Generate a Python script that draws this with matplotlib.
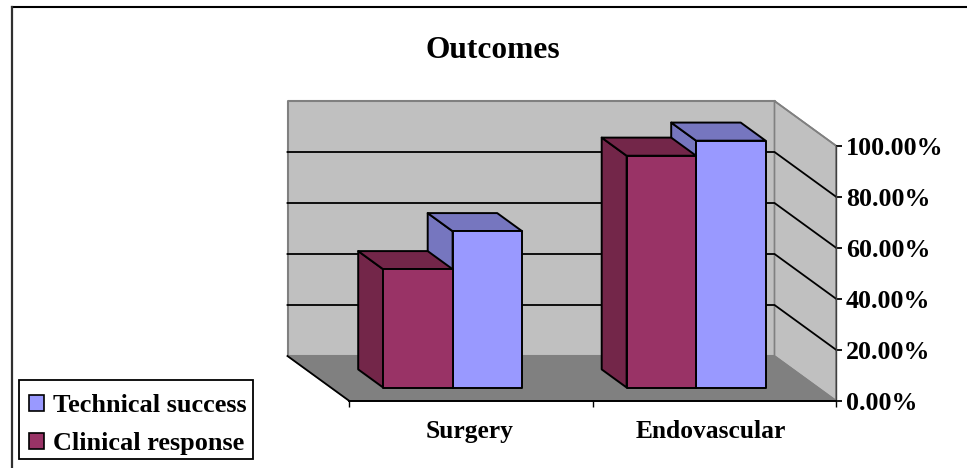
import matplotlib
matplotlib.use('Agg')
import matplotlib.pyplot as plt
from matplotlib.lines import Line2D
from matplotlib.patches import Patch, Rectangle
from matplotlib.transforms import ScaledTranslation

categories = ['Surgery', 'Endovascular']
technical_success = [61.3, 96.8]
clinical_response = [46.4, 90.9]
y_ticks = [0, 20, 40, 60, 80, 100]
y_tick_labels = ['0.00%', '20.00%', '40.00%', '60.00%', '80.00%', '100.00%']

W, H = 967, 468
plt.rcParams['font.family'] = ['Liberation Serif', 'DejaVu Serif']
plt.rcParams['font.weight'] = 'bold'

# oblique projection: depth 0 is the front of the floor, depth 1 the back wall
DEPTH_X = -61.5 / 243.5
DEPTH_Y = 44.7 / 2.55
BAR_W = 69.5 / 243.5
BAR_FRONT = 0.295
BAR_BACK = 0.70


def project(x, v, d):
    return x + d * DEPTH_X, v + d * DEPTH_Y


def face(ax, corners, color, edge='black', lw=1.4, z=1):
    pts = [project(*c) for c in corners]
    ax.fill([p[0] for p in pts], [p[1] for p in pts], facecolor=color,
            edgecolor=edge, linewidth=lw, clip_on=False, zorder=z, joinstyle='round')


def draw_bar(ax, left, value, front, dark, z):
    right = left + BAR_W
    # left side
    face(ax, [(left, 0, BAR_FRONT), (left, value, BAR_FRONT),
              (left, value, BAR_BACK), (left, 0, BAR_BACK)], dark, z=z)
    # top
    face(ax, [(left, value, BAR_FRONT), (right, value, BAR_FRONT),
              (right, value, BAR_BACK), (left, value, BAR_BACK)], dark, z=z)
    # front
    face(ax, [(left, 0, BAR_FRONT), (right, 0, BAR_FRONT),
              (right, value, BAR_FRONT), (left, value, BAR_FRONT)], front, z=z)


fig = plt.figure(figsize=(W / 100, H / 100), dpi=100, facecolor='white')
ax = fig.add_axes([349 / W, 1 - 400.7 / H, (836 - 349) / W, 255 / H])
ax.set_xlim(0, 2)
ax.set_ylim(0, 100)
ax.patch.set_visible(False)

# walls and floor
face(ax, [(0, 0, 1), (2, 0, 1), (2, 100, 1), (0, 100, 1)], '#c0c0c0', '#808080', 1.5, 0.1)
face(ax, [(2, 0, 1), (2, 0, 0), (2, 100, 0), (2, 100, 1)], '#c0c0c0', '#808080', 1.2, 0.1)
face(ax, [(0, 0, 0), (2, 0, 0), (2, 0, 1), (0, 0, 1)], '#808080', '#808080', 1.0, 0.2)

# gridlines run along the back wall, then down the right wall
for t in y_ticks[1:-1]:
    pts = [project(0, t, 1), project(2, t, 1), project(2, t, 0)]
    ax.plot([p[0] for p in pts], [p[1] for p in pts], color='black', lw=1.3,
            clip_on=False, zorder=0.5, solid_joinstyle='miter')
p0 = project(2, 100, 1)
p1 = project(2, 100, 0)
ax.plot([p0[0], p1[0]], [p0[1], p1[1]], color='#808080', lw=1.2, clip_on=False, zorder=0.5)
p0 = project(0, 0, 1)
p1 = project(0, 0, 0)
ax.plot([p0[0], p1[0]], [p0[1], p1[1]], color='black', lw=1.3, clip_on=False, zorder=0.5)

for i in range(len(categories)):
    center = i + 0.5
    left = center - BAR_W
    draw_bar(ax, center, technical_success[i], '#9999ff', '#7676bf', 1)
    draw_bar(ax, left, clinical_response[i], '#993366', '#732649', 1.5)

# axes
for side in ['top', 'left']:
    ax.spines[side].set_visible(False)
ax.spines['bottom'].set_linewidth(1.4)
ax.spines['right'].set_linewidth(1.0)
ax.spines['right'].set_color('#404040')
ax.yaxis.tick_right()
ax.set_yticks(y_ticks)
ax.set_yticklabels(y_tick_labels, fontsize=18.7, fontweight='bold', va='center')
ax.tick_params(axis='y', length=4, width=1.3, pad=3)
for lab in ax.get_yticklabels():
    lab.set_transform(lab.get_transform() + ScaledTranslation(0, -3 / 100, fig.dpi_scale_trans))
ax.set_xticks([0, 1, 2], minor=True)
ax.set_xticks([0.495, 1.485])
ax.set_xticklabels(categories, fontsize=18.4, fontweight='bold')
ax.tick_params(axis='x', which='major', length=0, pad=14)
ax.tick_params(axis='x', which='minor', length=4, width=1.0)

fig.text(493 / W, 1 - 50 / H, 'Outcomes', fontsize=22.6, fontweight='bold',
         ha='center', va='center')

# legend box
fig.add_artist(Rectangle((19 / W, 1 - 459 / H), 234 / W, 79 / H, transform=fig.transFigure,
                         facecolor='white', edgecolor='black', linewidth=1.3, zorder=3))
handles = [Patch(facecolor='#9999ff', edgecolor='black', linewidth=1.2, label='Technical success'),
           Patch(facecolor='#993366', edgecolor='black', linewidth=1.2, label='Clinical response')]
leg = fig.legend(handles=handles, loc='lower left', bbox_to_anchor=(29 / W, 1 - 455 / H),
                 borderaxespad=0, frameon=False, fontsize=18.9, handlelength=0.57,
                 handleheight=0.57, handletextpad=0.35, labelspacing=0.57, borderpad=0)
leg.set_zorder(4)

# outer frame: only the top and left edges are drawn
fig.add_artist(Line2D([11.5 / W, 1], [1 - 6.5 / H, 1 - 6.5 / H], color='black', lw=1.5))
fig.add_artist(Line2D([11.5 / W, 11.5 / W], [0, 1 - 6.5 / H], color='#303030', lw=1.6))

fig.savefig('out.png', dpi=100)
